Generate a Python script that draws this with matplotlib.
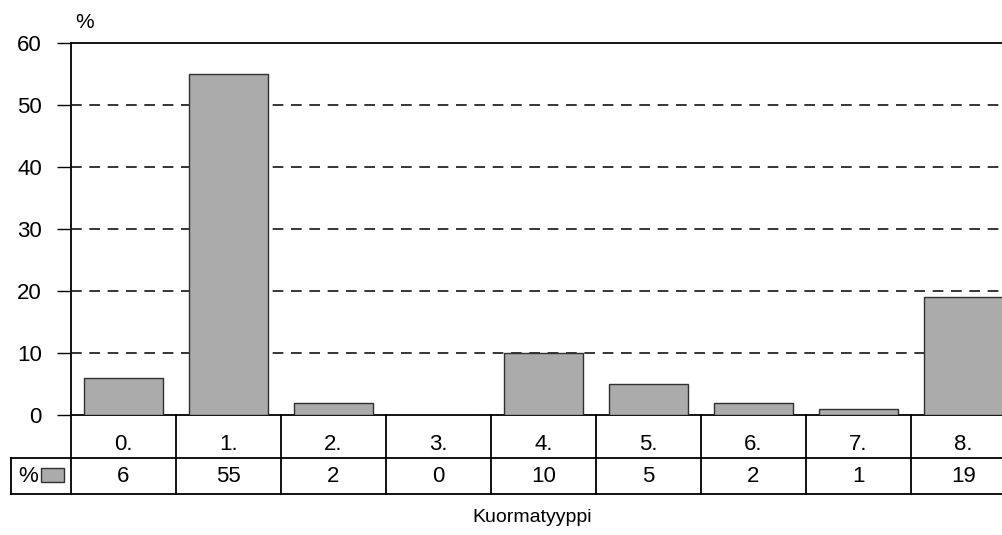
import matplotlib
matplotlib.use("Agg")
import matplotlib.pyplot as plt
from matplotlib.patches import Rectangle
from matplotlib.lines import Line2D
from matplotlib import font_manager

categories = ["0.", "1.", "2.", "3.", "4.", "5.", "6.", "7.", "8."]
values = [6, 55, 2, 0, 10, 5, 2, 1, 19]
yticks = [0, 10, 20, 30, 40, 50, 60]
series_name = "%"
xlabel = "Kuormatyyppi"

names = {f.name for f in font_manager.fontManager.ttflist}
fam = ["Liberation Sans Narrow"] if "Liberation Sans Narrow" in names else ["Liberation Sans"]
plt.rcParams["font.family"] = fam + ["DejaVu Sans"]

W, H = 1002, 535
fig = plt.figure(figsize=(W / 100, H / 100), dpi=100)

def fx(px):
    return px / W

def fy(py):
    return 1 - py / H

ax_left, ax_top, ax_bot, ax_right = 71, 43, 415, 1016
ax = fig.add_axes([fx(ax_left), fy(ax_bot), fx(ax_right - ax_left), (ax_bot - ax_top) / H])

bar_color = "#ababab"
x = list(range(len(categories)))
ax.bar(x, values, width=0.75, color=bar_color, edgecolor="#303030", linewidth=1.0, zorder=3)

ax.set_xlim(-0.5, len(categories) - 0.5)
ax.set_ylim(0, 60)
ax.set_yticks(yticks)
ax.set_yticklabels([str(v) for v in yticks], fontsize=16)
ax.set_xticks([])
ax.tick_params(axis="y", direction="out", length=10, width=1, pad=11)

for v in yticks[1:-1]:
    ax.axhline(v, color="black", linestyle=(0, (7, 5)), linewidth=1.1, zorder=1)

for s in ["top", "left", "bottom"]:
    ax.spines[s].set_linewidth(1.3)
    ax.spines[s].set_color("black")
ax.spines["right"].set_visible(False)

# data table below the axes (figure pixel coordinates)
col_w = (ax_right - ax_left) / len(categories)
row1_bot, row2_bot = 458, 494
head_left = 11
lw = 1.3
fig.add_artist(Line2D([fx(head_left), fx(W + 20)], [fy(row1_bot)] * 2, color="black", lw=lw))
fig.add_artist(Line2D([fx(head_left), fx(W + 20)], [fy(row2_bot)] * 2, color="black", lw=lw))
fig.add_artist(Line2D([fx(head_left)] * 2, [fy(row1_bot), fy(row2_bot)], color="black", lw=lw))
for i in range(len(categories)):
    xb = ax_left + i * col_w
    fig.add_artist(Line2D([fx(xb)] * 2, [fy(ax_bot), fy(row2_bot)], color="black", lw=lw))
    xc = ax_left + (i + 0.5) * col_w
    fig.text(fx(xc), fy(445), categories[i], ha="center", va="center", fontsize=16)
    fig.text(fx(xc), fy(476), str(values[i]), ha="center", va="center", fontsize=16)

fig.text(fx(28), fy(476), series_name, ha="center", va="center", fontsize=16)
fig.add_artist(Rectangle((fx(41), fy(482)), fx(23), (482 - 468) / H,
                         facecolor=bar_color, edgecolor="#303030", lw=1,
                         transform=fig.transFigure))

fig.text(fx(85), fy(22), "%", ha="center", va="center", fontsize=15)
fig.text(fx(532), fy(518), xlabel, ha="center", va="center", fontsize=14)

fig.savefig("out.png", dpi=100)
